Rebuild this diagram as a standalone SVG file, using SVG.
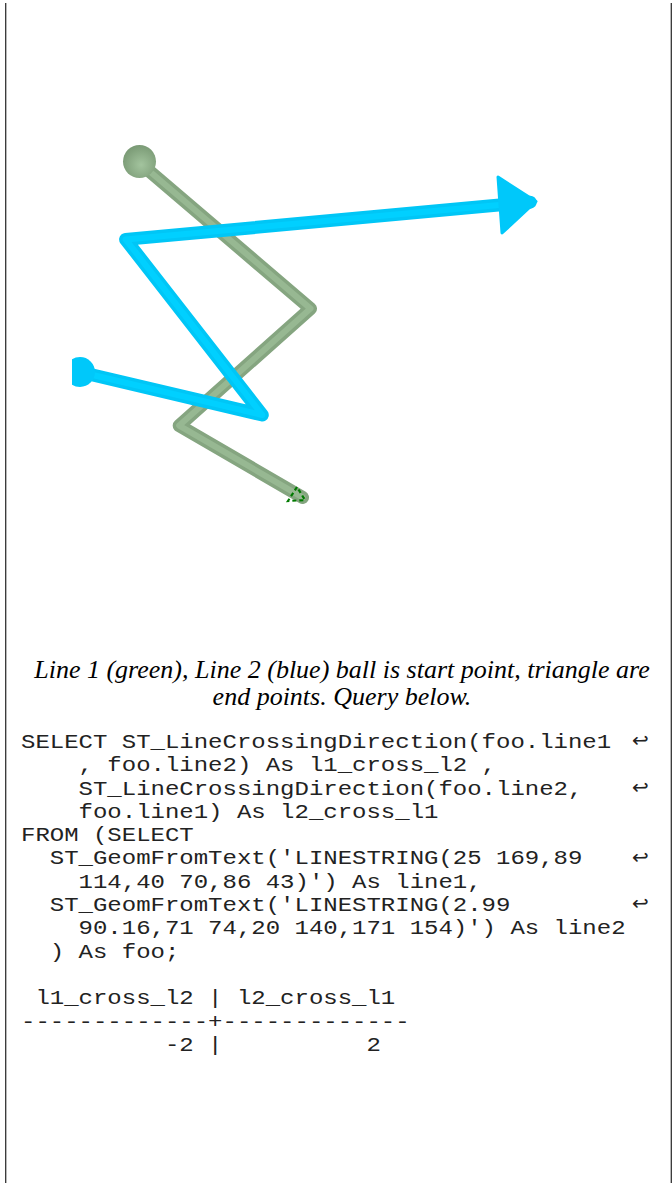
<svg xmlns="http://www.w3.org/2000/svg" width="672" height="1187" viewBox="0 0 672 1187">
<style>
.frame{stroke:#333;stroke-width:1.3;fill:none}
.g-out{fill:none;stroke:#85a580;stroke-width:13;stroke-linecap:round;stroke-linejoin:round}
.g-in{fill:none;stroke:#97b892;stroke-width:6;stroke-linecap:round;stroke-linejoin:round}
.b-out{fill:none;stroke:#00c6f6;stroke-width:13;stroke-linecap:round;stroke-linejoin:round}
.b-in{fill:none;stroke:#00d0ff;stroke-width:6;stroke-linecap:round;stroke-linejoin:round}
.cap{font-family:"Liberation Serif","Times New Roman",serif;font-style:italic;font-size:26px;fill:#000}
.code{font-family:"Liberation Mono","Courier New",monospace;font-size:20px;fill:#222;white-space:pre}
.arr{font-family:"DejaVu Sans",sans-serif;font-size:20px;fill:#222}
</style>
<defs>
<clipPath id="mapclip"><rect x="72" y="0" width="600" height="640"/></clipPath>
<radialGradient id="gball" cx="0.55" cy="0.6" r="0.6"><stop offset="0" stop-color="#a3c49e"/><stop offset="1" stop-color="#7a9a75"/></radialGradient>
</defs>
<rect x="0" y="0" width="672" height="1187" fill="#fff"/>
<g id="frame">
<line class="frame" x1="5.7" y1="3" x2="5.7" y2="1183"/>
<line class="frame" x1="671.3" y1="3" x2="671.3" y2="1183" stroke="#000"/>
</g>
<g id="map" clip-path="url(#mapclip)">
<g id="line1">
<polyline class="g-out" points="139,162.3 310.5,308.6 179.2,425.6 302.5,497.4"/>
<polyline class="g-in" points="139,162.3 310.5,308.6 179.2,425.6 302.5,497.4"/>
<circle cx="139.5" cy="161.5" r="16.5" fill="url(#gball)"/>
<polygon points="297,487 288,501 305,500" fill="none" stroke="#007a00" stroke-width="2.2" stroke-dasharray="4,3"/>
</g>
<g id="line2">
<polyline class="b-out" points="80,372 262.3,415 125.6,239.4 530.3,202.2"/>
<polyline class="b-in" points="80,372 262.3,415 125.6,239.4 530.3,202.2"/>
<circle cx="80" cy="372" r="15" fill="#00c8fa"/>
<polygon points="498,177 502,233 536,201.5" fill="#00c8fa" stroke="#00c8fa" stroke-width="3" stroke-linejoin="round"/>
</g>
</g>
<g id="caption">
<text class="cap" x="342" y="678" text-anchor="middle">Line 1 (green), Line 2 (blue) ball is start point, triangle are</text>
<text class="cap" x="342" y="705" text-anchor="middle">end points. Query below.</text>
</g>
<g id="code">
<g transform="scale(1.2,1)">
<text class="code" xml:space="preserve" x="17.5" y="748">SELECT ST_LineCrossingDirection(foo.line1</text>
<text class="code" xml:space="preserve" x="17.5" y="771.3">    , foo.line2) As l1_cross_l2 ,</text>
<text class="code" xml:space="preserve" x="17.5" y="794.6">    ST_LineCrossingDirection(foo.line2,</text>
<text class="code" xml:space="preserve" x="17.5" y="817.9">    foo.line1) As l2_cross_l1</text>
<text class="code" xml:space="preserve" x="17.5" y="841.2">FROM (SELECT</text>
<text class="code" xml:space="preserve" x="17.5" y="864.5">  ST_GeomFromText('LINESTRING(25 169,89</text>
<text class="code" xml:space="preserve" x="17.5" y="887.8">    114,40 70,86 43)') As line1,</text>
<text class="code" xml:space="preserve" x="17.5" y="911.1">  ST_GeomFromText('LINESTRING(2.99</text>
<text class="code" xml:space="preserve" x="17.5" y="934.4">    90.16,71 74,20 140,171 154)') As line2</text>
<text class="code" xml:space="preserve" x="17.5" y="957.7">  ) As foo;</text>
<text class="code" xml:space="preserve" x="17.5" y="1004.3"> l1_cross_l2 | l2_cross_l1</text>
<text class="code" xml:space="preserve" x="17.5" y="1027.6">-------------+-------------</text>
<text class="code" xml:space="preserve" x="17.5" y="1050.9">          -2 |          2</text>
</g>
<text class="arr" x="632" y="747">↩</text>
<text class="arr" x="632" y="793.6">↩</text>
<text class="arr" x="632" y="863.5">↩</text>
<text class="arr" x="632" y="910.1">↩</text>
</g>
</svg>
